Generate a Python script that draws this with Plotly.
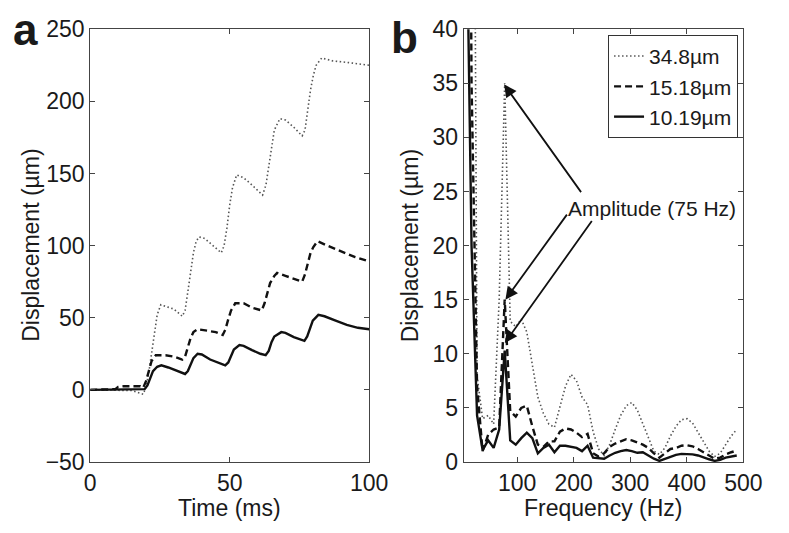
import plotly.graph_objects as go

# ---------------- Panel a: displacement vs time ----------------
t_348 = [0, 10, 15, 19, 20, 21, 22, 23, 24, 25.3, 27, 30, 33, 34, 35, 36, 37, 38, 39, 41, 44, 47,
         48, 49, 50, 51, 52.5, 55, 58, 61.8, 63, 64, 65, 66, 68, 70, 73, 76, 77, 78, 79, 80, 81, 83,
         87, 92, 100]
d_348 = [0, 0, -0.5, -3, 2, 12, 25, 40, 52, 59, 58, 56, 51, 55, 68, 82, 95, 103, 106, 105, 100, 95,
         100, 112, 128, 140, 149, 147, 142, 135, 142, 155, 168, 180, 188, 187, 182, 176, 180, 195, 208,
         218, 225, 230, 228, 227, 225]

t_1518 = [0, 9, 10, 12, 18, 19, 20, 21, 22, 23.5, 27, 30, 33, 34, 35, 36, 37, 38.5, 42, 45, 47.5,
          48.5, 49.5, 50.5, 52, 55, 58, 61.5, 62.5, 63.5, 64.5, 66, 67, 70, 73, 76, 77, 78, 79, 80,
          81.5, 85, 90, 95, 100]
d_1518 = [0, 0.5, 2, 2.5, 2.5, 1.5, 6, 14, 20, 24, 24, 23, 21, 23, 30, 36, 40, 42, 41, 40, 38,
          42, 49, 55, 60, 60, 57, 55, 60, 67, 74, 79, 81, 79, 77, 75, 80, 88, 95, 99,
          103, 100, 96, 92, 89]

t_1019 = [0, 18, 19.5, 20.5, 21.5, 22.5, 24, 25.5, 28, 31, 34, 35, 36, 37, 38.5, 40, 43, 46, 48.4,
          49.5, 50.5, 51.5, 53.5, 55, 58, 61, 62.9, 64, 65, 66, 68.5, 70, 73, 76.8, 77.8, 78.8,
          79.8, 81.8, 84, 88, 92, 96, 100]
d_1019 = [0, 0, 0.5, 3, 8, 13, 16, 17, 15.5, 13, 11, 13, 18, 22, 25, 24.5, 21, 18.5, 17,
          19, 24, 28, 31, 30.5, 27.5, 25, 24, 27, 33, 37, 40, 39.5, 36.5, 34, 37, 43,
          48, 52, 51, 48, 45, 43, 42]

# ---------------- Panel b: spectrum ----------------
freq = [9.77, 19.53, 29.30, 39.06, 48.83, 58.59, 68.36, 78.13, 87.89, 97.66,
        107.42, 117.19, 126.95, 136.72, 146.48, 156.25, 166.02, 175.78, 185.55, 195.31,
        205.08, 214.84, 224.61, 234.38, 244.14, 253.91, 263.67, 273.44, 283.20, 292.97,
        302.73, 312.50, 322.27, 332.03, 341.80, 351.56, 361.33, 371.09, 380.86, 390.63,
        400.39, 410.16, 419.92, 429.69, 439.45, 449.22, 458.98, 468.75, 478.52, 488.28]

amp_348 = [300, 110, 8, 4.0, 4.3, 3.5, 15, 35, 13.0, 12.5,
           13.2, 12.0, 9.0, 6.0, 4.5, 3.5, 3.2, 5.0, 7.0, 8.1,
           7.5, 6.0, 5.3, 2.8, 1.2, 0.6, 1.6, 3.0, 4.3, 5.2,
           5.5, 4.8, 3.5, 2.2, 1.0, 0.7, 1.3, 2.4, 3.3, 3.9,
           4.0, 3.6, 2.7, 1.8, 1.0, 0.5, 0.8, 1.6, 2.4, 3.0]

amp_1518 = [120, 35, 7.0, 1.0, 2.5, 3.0, 3.2, 15.0, 4.7, 4.2,
            5.0, 5.2, 3.3, 1.6, 1.4, 1.9, 1.9, 2.8, 3.1, 3.0,
            2.7, 2.3, 2.6, 0.8, 0.5, 0.8, 1.4, 1.7, 1.9, 2.1,
            2.0, 1.8, 1.6, 1.3, 0.8, 0.4, 0.8, 1.2, 1.3, 1.5,
            1.55, 1.45, 1.2, 0.9, 0.6, 0.3, 0.4, 0.7, 0.9, 1.05]

amp_1019 = [55, 20, 4.3, 1.1, 2.0, 1.3, 3.0, 10.3, 2.0, 1.6,
            2.2, 2.7, 2.2, 0.8, 1.3, 1.6, 0.9, 1.5, 1.5, 1.4,
            1.3, 1.0, 1.5, 0.4, 0.35, 0.3, 0.6, 0.85, 1.0, 1.1,
            1.0, 0.85, 0.9, 0.6, 0.3, 0.1, 0.3, 0.5, 0.65, 0.75,
            0.75, 0.7, 0.6, 0.4, 0.25, 0.1, 0.2, 0.4, 0.5, 0.6]

legend_names = ["34.8µm", "15.18µm", "10.19µm"]

FONT = "Liberation Sans, Arial, sans-serif"
DOT = dict(color="#555555", width=1.6, dash="1.5px,2.5px")
DASH = dict(color="#111111", width=2.4, dash="7px,4px")
SOLID = dict(color="#111111", width=2.4)

fig = go.Figure()
fig.add_trace(go.Scatter(x=t_348, y=d_348, mode="lines", line=DOT, xaxis="x", yaxis="y", showlegend=False))
fig.add_trace(go.Scatter(x=t_1518, y=d_1518, mode="lines", line=DASH, xaxis="x", yaxis="y", showlegend=False))
fig.add_trace(go.Scatter(x=t_1019, y=d_1019, mode="lines", line=SOLID, xaxis="x", yaxis="y", showlegend=False))

fig.add_trace(go.Scatter(x=freq, y=amp_348, mode="lines", line=DOT, xaxis="x2", yaxis="y2", name=legend_names[0]))
fig.add_trace(go.Scatter(x=freq, y=amp_1518, mode="lines", line=DASH, xaxis="x2", yaxis="y2", name=legend_names[1]))
fig.add_trace(go.Scatter(x=freq, y=amp_1019, mode="lines", line=SOLID, xaxis="x2", yaxis="y2", name=legend_names[2]))

W, H = 789, 533
def px(x):
    return x / W
def py(y):
    return 1 - y / H

ydom = [py(472), py(17)]
axis_common = dict(showline=True, mirror="allticks", ticks="inside", ticklen=5, tickwidth=1,
                   linecolor="#444444", tickcolor="#444444", linewidth=1, showgrid=False, zeroline=False,
                   tickfont=dict(family=FONT, size=23, color="#1a1a1a"))

fig.update_layout(
    width=W, height=H,
    margin=dict(l=0, r=0, t=0, b=0),
    paper_bgcolor="white", plot_bgcolor="white",
    font=dict(family=FONT, size=23, color="#1a1a1a"),
    xaxis=dict(domain=[px(87), px(375)], range=[0, 100], tickvals=[0, 50, 100], anchor="y", **axis_common),
    yaxis=dict(domain=ydom, range=[-50, 250], tickvals=[-50, 0, 50, 100, 150, 200, 250], anchor="x", **axis_common),
    xaxis2=dict(domain=[px(472.7), px(761.5)], range=[5.7, 500], tickvals=[100, 200, 300, 400, 500], anchor="y2", **axis_common),
    yaxis2=dict(domain=ydom, range=[0, 40], tickvals=[0, 5, 10, 15, 20, 25, 30, 35, 40], anchor="x2", **axis_common),
    legend=dict(x=px(756), y=py(23), xanchor="right", yanchor="top", bgcolor="white",
                bordercolor="#333333", borderwidth=1, font=dict(family=FONT, size=21, color="#1a1a1a"),
                tracegroupgap=0, itemwidth=30),
    showlegend=True,
)

ann = []
ann.append(dict(text="<b>a</b>", x=px(20), y=py(17), xref="paper", yref="paper", showarrow=False,
                font=dict(family=FONT, size=44, color="#1a1a1a"), xanchor="center", yanchor="middle"))
ann.append(dict(text="<b>b</b>", x=px(412), y=py(26), xref="paper", yref="paper", showarrow=False,
                font=dict(family=FONT, size=44, color="#1a1a1a"), xanchor="center", yanchor="middle"))
ann.append(dict(text="Displacement (µm)", x=px(25), y=py(244.5), xref="paper", yref="paper", showarrow=False,
                textangle=-90, font=dict(family=FONT, size=23), xanchor="center", yanchor="middle"))
ann.append(dict(text="Displacement (µm)", x=px(417), y=py(244.5), xref="paper", yref="paper", showarrow=False,
                textangle=-90, font=dict(family=FONT, size=23), xanchor="center", yanchor="middle"))
ann.append(dict(text="Time (ms)", x=px(231), y=py(520), xref="paper", yref="paper", showarrow=False,
                font=dict(family=FONT, size=23), xanchor="center", yanchor="middle"))
ann.append(dict(text="Frequency (Hz)", x=px(617), y=py(520), xref="paper", yref="paper", showarrow=False,
                font=dict(family=FONT, size=23), xanchor="center", yanchor="middle"))
ann.append(dict(text="Amplitude (75 Hz)", x=338, y=23.4, xref="x2", yref="y2", showarrow=False,
                font=dict(family=FONT, size=21), xanchor="center", yanchor="middle"))

arrow_heads = [(77, 34.9), (79.4, 15.0), (78.3, 11.0)]
arrow_tails = [(215, 24.8), (190, 23.0), (234, 22.4)]
for (hx, hy), (tx, ty) in zip(arrow_heads, arrow_tails):
    ann.append(dict(text="", x=hx, y=hy, ax=tx, ay=ty, xref="x2", yref="y2", axref="x2", ayref="y2",
                    showarrow=True, arrowhead=2, arrowsize=1.4, arrowwidth=1.8, arrowcolor="#111111"))
fig.update_layout(annotations=ann)

fig.write_html("out.html", config={"displayModeBar": False},
               post_script="document.body.style.margin='0px';")
